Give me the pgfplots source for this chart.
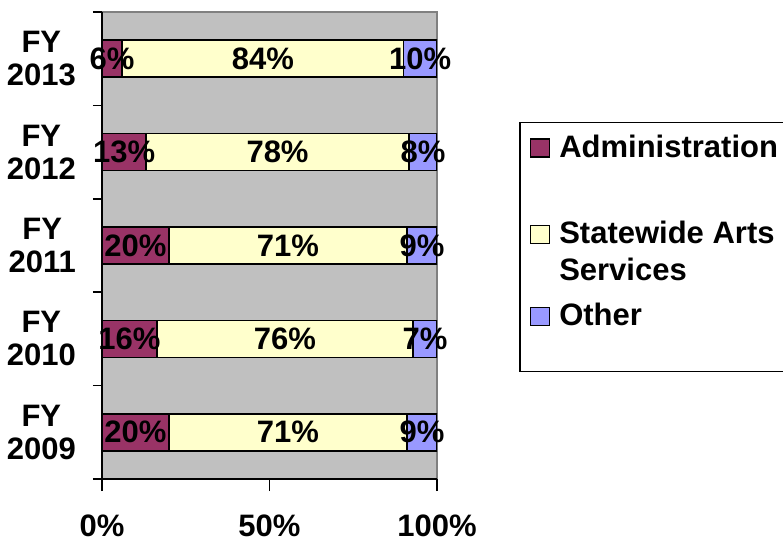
\documentclass[border=0pt]{standalone}
\usepackage{fontspec}
\setmainfont{Liberation Sans}
\usepackage{pgfplots}
\usepackage{pgfplotstable}
\pgfplotsset{compat=1.18}
\definecolor{adm}{HTML}{993366}
\definecolor{sas}{HTML}{FFFFCC}
\definecolor{oth}{HTML}{9999FF}
\definecolor{plotbg}{HTML}{C0C0C0}
\definecolor{bordergray}{HTML}{808080}
\pgfplotstableread{
c adm sas oth
0 20 71 9
1 16.4 76.4 7.2
2 20 71 9
3 13.2 78.4 8.4
4 6 84 10
}\budget
\pgfplotstableread{
c x lab
0 10 20
0 55.5 71
0 95.5 9
1 8.2 16
1 54.6 76
1 96.4 7
2 10 20
2 55.5 71
2 95.5 9
3 6.6 13
3 52.4 78
3 95.8 8
4 3 6
4 48 84
4 95 10
}\labels
\newcommand{\bigbf}{\fontsize{31}{33}\selectfont\bfseries}
\begin{document}
\begin{tikzpicture}
\useasboundingbox (0pt,0pt) rectangle (783pt,543pt);
\begin{axis}[
  at={(102pt,64pt)}, anchor=south west,
  scale only axis, width=335pt, height=467pt,
  xbar stacked, bar width=37pt,
  xmin=0, xmax=100, ymin=-0.5, ymax=4.5,
  axis background/.style={fill=plotbg, draw=bordergray, line width=1.5pt},
  axis x line*=bottom, axis y line*=left,
  axis line style={black, line width=1.5pt, -},
  tick align=outside,
  major tick length=12pt, minor tick length=9pt,
  tick style={black, line width=1.5pt},
  xtick={0,50,100}, xticklabels={0\%,50\%,100\%},
  ytick={0,1,2,3,4},
  yticklabels={{FY\\2009},{FY\\2010},{FY\\2011},{FY\\2012},{FY\\2013}},
  minor ytick={-0.5,0.5,1.5,2.5,3.5,4.5},
  major y tick style={draw=none},
  tick label style={font=\bigbf},
  yticklabel style={align=center, inner sep=0pt, xshift=-14pt},
  xticklabel style={inner sep=0pt, yshift=-24pt},
  every axis plot/.append style={draw=black, line width=1.5pt},
  legend style={at={(1.2448,0.7645)}, anchor=north west, draw=black, line width=1.5pt, fill=white,
    inner xsep=10pt, inner ysep=10pt, row sep=5pt, column sep=7pt,
    font=\fontsize{31}{37}\selectfont\bfseries,
    cells={anchor=base west, inner sep=0pt}},
  legend image code/.code={\draw[#1, line width=1.5pt] (0pt,0pt) rectangle (19pt,18pt);},
]
\addplot[fill=adm] table[x=adm,y=c]{\budget};
\addlegendentry{Administration\hspace{30pt}\mbox{}}
\addlegendimage{empty legend}
\addlegendentry{\rule{0pt}{43pt}}
\addplot[fill=sas] table[x=sas,y=c]{\budget};
\addlegendentry{Statewide Arts}
\addlegendimage{empty legend}
\addlegendentry{\rule{0pt}{26pt}Services}
\addplot[fill=oth] table[x=oth,y=c]{\budget};
\addlegendentry{\rule{0pt}{35pt}Other}
\addlegendimage{empty legend}
\addlegendentry{\rule{0pt}{22pt}}
\end{axis}
\begin{axis}[
  at={(102pt,64pt)}, anchor=south west,
  scale only axis, width=335pt, height=467pt,
  xmin=0, xmax=100, ymin=-0.5, ymax=4.5,
  hide axis,
]
\addplot[only marks, mark=*, mark size=0pt, mark options={draw=none,fill=none},
  point meta=explicit symbolic,
  nodes near coords={\pgfplotspointmeta\%},
  every node near coord/.append style={font=\bigbf, text=black, anchor=center, inner sep=0pt}]
  table[x=x,y=c,meta=lab]{\labels};
\end{axis}
\end{tikzpicture}
\end{document}
